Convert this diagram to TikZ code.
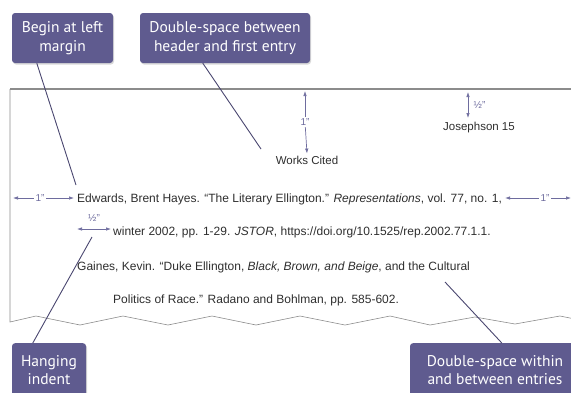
\documentclass[tikz,border=0pt]{standalone}
\usepackage{fontspec}
\setmainfont{Liberation Sans}
\newfontfamily\calloutfont{PT Sans}
\usetikzlibrary{shadows,arrows.meta}

\definecolor{calloutpurple}{HTML}{5F5B8F}
\definecolor{leadercolor}{HTML}{4A4770}
\definecolor{measurecolor}{HTML}{6E6C9E}
\definecolor{pagegray}{HTML}{8C8C8C}
\definecolor{textgray}{HTML}{2E2E2E}

\begin{document}
\begin{tikzpicture}[x=1pt, y=-1pt,
    callout/.style={fill=calloutpurple, rounded corners=3pt, text=white, align=center,
        font=\calloutfont\fontsize{15.5}{18.5}\selectfont,
        drop shadow={opacity=0.3, shadow xshift=1pt, shadow yshift=-1.5pt}},
    leader/.style={draw=leadercolor, line width=0.9pt},
    measure/.style={draw=measurecolor, line width=0.7pt, -{Latex[length=5pt,width=3.5pt]}},
    mlabel/.style={text=measurecolor, font=\fontsize{10}{12}\selectfont, inner sep=1.5pt},
    entry/.style={anchor=base west, inner sep=0pt, text=textgray, font=\fontsize{12}{14}\selectfont},
    heading/.style={text=textgray, font=\fontsize{11.5}{13}\selectfont, inner sep=2pt}]

    \useasboundingbox (0,0) rectangle (571,392);

    % Page
    \draw[pagegray, line width=0.6pt] (10,89) -- (10,322) -- (36,316) -- (80,325) -- (123,316)
        -- (168,325) -- (212,316) -- (256,325) -- (300,316) -- (345,325) -- (390,316)
        -- (430,325) -- (475,317) -- (515,324) -- (560,316) -- (580,320);
    \draw[pagegray, line width=1.6pt] (10,89) -- (571,89);

    % Header lines
    \node[heading] (works) at (307,160) {Works Cited};
    \node[heading] (pagenum) at (479,128) {Josephson 15};

    % Entries
    \node[entry] (entryA) at (77,202) {Edwards, Brent Hayes. “The Literary Ellington.” \textit{Representations}, vol. 77, no. 1,};
    \node[entry] (entryB) at (113,235) {winter 2002, pp. 1-29. \textit{JSTOR}, https://doi.org/10.1525/rep.2002.77.1.1.};
    \node[entry] (entryC) at (77,270) {Gaines, Kevin. “Duke Ellington, \textit{Black, Brown, and Beige}, and the Cultural};
    \node[entry] (entryD) at (113,303) {Politics of Race.” Radano and Bohlman, pp. 585-602.};

    % Measurements
    \coordinate (toptop) at (305,91);
    \node[mlabel] (onein) at (305,122) {1”};
    \draw[measure] (onein) -- (toptop);
    \draw[measure] (onein) -- (works.north);

    \coordinate (halftop) at (468,92);
    \coordinate (halfbot) at (468,118);
    \draw[measure, {Latex[length=5pt,width=3.5pt]}-{Latex[length=5pt,width=3.5pt]}] (halftop) -- (halfbot);
    \node[mlabel, anchor=west] (halfin) at (472,105) {½”};

    \coordinate (leftedge) at (13,198);
    \node[mlabel] (leftin) at (40,198) {1”};
    \draw[measure] (leftin) -- (leftedge);
    \draw[measure, shorten >=3pt] (leftin) -- (entryA.west |- leftin);

    \coordinate (rightedge) at (571,198);
    \node[mlabel] (rightin) at (545,198) {1”};
    \draw[measure] (rightin) -- (rightedge);
    \draw[measure, shorten >=3pt] (rightin) -- (entryA.east |- rightin);

    \coordinate (indentA) at (77,229);
    \coordinate (indentB) at (111,229);
    \draw[measure, {Latex[length=5pt,width=3.5pt]}-{Latex[length=5pt,width=3.5pt]}] (indentA) -- (indentB);
    \node[mlabel] (indentin) at (94,218) {½”};

    % Callouts
    \node[callout, minimum width=101, minimum height=50] (lmargin) at (62.5,38) {Begin at left\\margin};
    \node[callout, minimum width=170, minimum height=50] (hdrspace) at (225,38) {Double-space between\\header and first entry};
    \node[callout, minimum width=74, minimum height=54, anchor=north] (hangind) at (49,343) {Hanging\\indent};
    \node[callout, minimum width=170, minimum height=54, anchor=north] (entryspace) at (495,343) {Double-space within\\and between entries};

    % Leaders
    \coordinate (lmargintip) at (76,185);
    \coordinate (hdrspacetip) at (261,149);
    \coordinate (hangindtip) at (92,237);
    \coordinate (entryspacetip) at (445,282);
    \draw[leader] ([xshift=25pt]lmargin.south west) -- (lmargintip);
    \draw[leader] ([xshift=63pt]hdrspace.south west) -- (hdrspacetip);
    \draw[leader] ([xshift=21pt]hangind.north west) -- (hangindtip);
    \draw[leader] ([xshift=92pt]entryspace.north west) -- (entryspacetip);
\end{tikzpicture}
\end{document}
